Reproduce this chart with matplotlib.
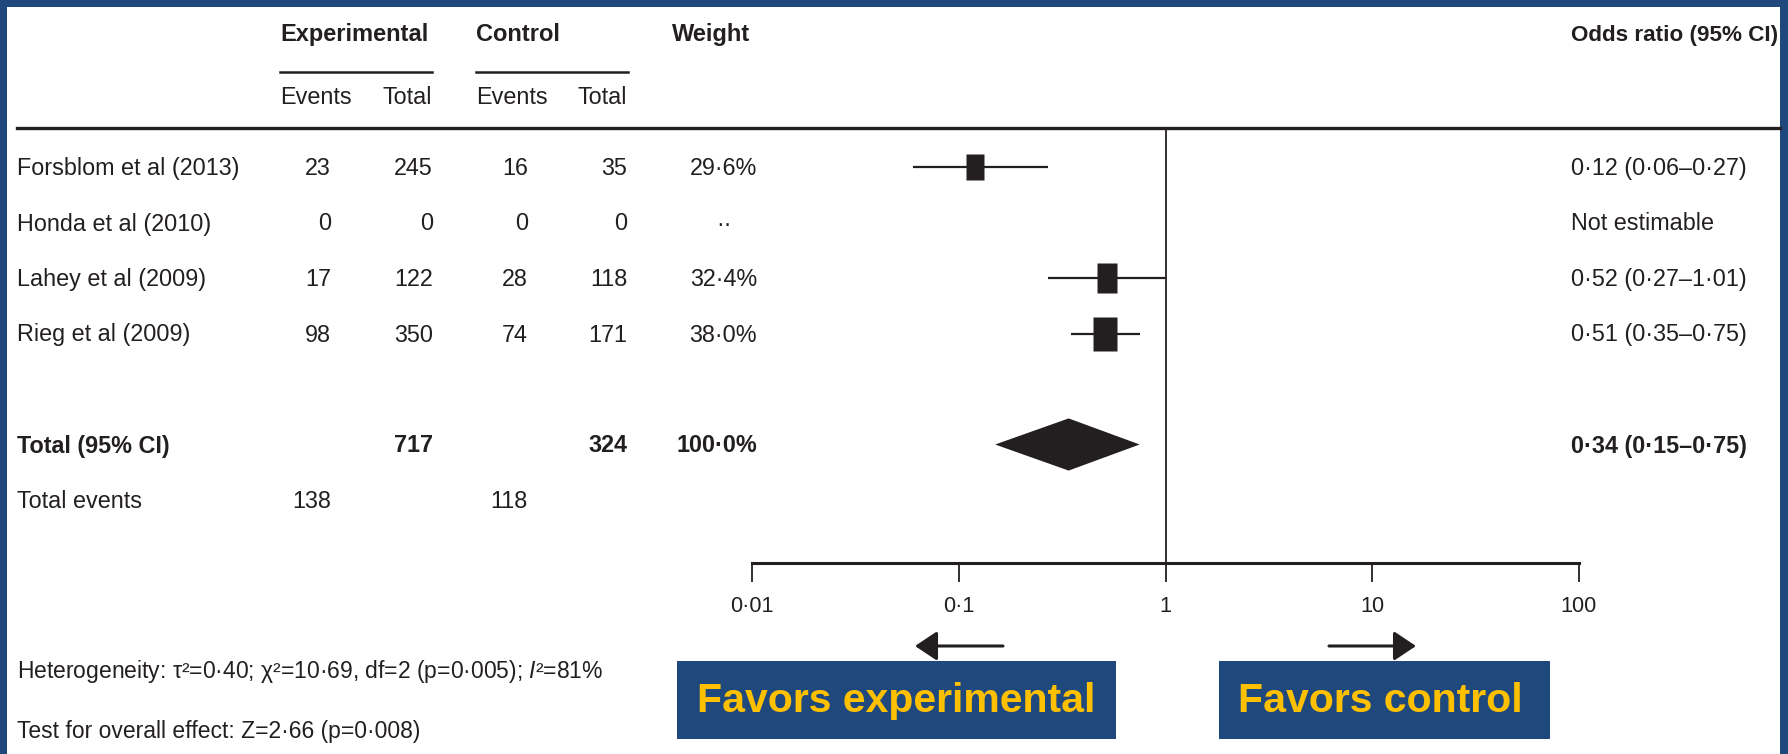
import matplotlib.pyplot as plt
from matplotlib.patches import Rectangle
from matplotlib.ticker import NullLocator

plt.rcParams['font.family'] = ['Liberation Sans', 'DejaVu Sans']
plt.rcParams['mathtext.fontset'] = 'custom'
plt.rcParams['mathtext.it'] = 'Liberation Sans:italic'
plt.rcParams['mathtext.rm'] = 'Liberation Sans'

# -------------------------
# Data
# -------------------------
studies = ["Forsblom et al (2013)", "Honda et al (2010)", "Lahey et al (2009)", "Rieg et al (2009)"]
exp_events = [23, 0, 17, 98]
exp_total = [245, 0, 122, 350]
ctl_events = [16, 0, 28, 74]
ctl_total = [35, 0, 118, 171]
weights = [29.6, None, 32.4, 38.0]
odds = [0.12, None, 0.52, 0.51]
ci_low = [0.06, None, 0.27, 0.35]
ci_high = [0.27, None, 1.01, 0.75]

pooled_or, pooled_low, pooled_high = 0.34, 0.15, 0.75
total_exp, total_ctl = 717, 324
total_events_exp, total_events_ctl = 138, 118

ticks = [0.01, 0.1, 1, 10, 100]
tick_labels = ["0·01", "0·1", "1", "10", "100"]

heterogeneity = "Heterogeneity: τ²=0·40; χ²=10·69, df=2 (p=0·005); $\\mathit{I}$²=81%"
overall = "Test for overall effect: Z=2·66 (p=0·008)"


def dot(s):
    return s.replace(".", "·")


BLUE = "#1F497D"
GOLD = "#FFC000"
INK = "#231F20"

W, H = 1788, 754
fig = plt.figure(figsize=(W / 100, H / 100), dpi=100)
fig.patch.set_facecolor(BLUE)

# background / table axes in pixel units
bg = fig.add_axes([0, 0, 1, 1])
bg.set_xlim(0, W)
bg.set_ylim(H, 0)
bg.axis("off")
bg.add_patch(Rectangle((7, 7), 1773, 760, facecolor="white", edgecolor="none"))

row_y0, pitch = 167, 55.5
total_row, events_row = 5, 6
fs = 16.8
hfs = 17


def ry(r):
    return row_y0 + r * pitch + 8  # baseline


# headers
bg.text(280, 41, "Experimental", fontsize=hfs, fontweight="bold", color=INK, va="baseline")
bg.text(476, 41, "Control", fontsize=hfs, fontweight="bold", color=INK, va="baseline")
bg.text(672, 41, "Weight", fontsize=hfs, fontweight="bold", color=INK, va="baseline")
bg.text(1778, 41, "Odds ratio (95% CI)", fontsize=16.2, fontweight="bold", color=INK,
        va="baseline", ha="right")
bg.plot([280, 432], [72, 72], color=INK, lw=1.8)
bg.plot([476, 628], [72, 72], color=INK, lw=1.8)
bg.text(280, 104, "Events", fontsize=fs, color=INK, va="baseline")
bg.text(432, 104, "Total", fontsize=fs, color=INK, va="baseline", ha="right")
bg.text(476, 104, "Events", fontsize=fs, color=INK, va="baseline")
bg.text(627, 104, "Total", fontsize=fs, color=INK, va="baseline", ha="right")
bg.plot([17, 1780], [128, 128], color=INK, lw=2.4)

# study rows
for i, name in enumerate(studies):
    y = ry(i)
    bg.text(17, y, name, fontsize=fs, color=INK, va="baseline")
    bg.text(331, y, str(exp_events[i]), fontsize=fs, color=INK, va="baseline", ha="right")
    bg.text(433, y, str(exp_total[i]), fontsize=fs, color=INK, va="baseline", ha="right")
    bg.text(528, y, str(ctl_events[i]), fontsize=fs, color=INK, va="baseline", ha="right")
    bg.text(627, y, str(ctl_total[i]), fontsize=fs, color=INK, va="baseline", ha="right")
    if weights[i] is None:
        bg.text(724, y, "··", fontsize=fs, color=INK, va="baseline", ha="center")
        bg.text(1571, y, "Not estimable", fontsize=fs, color=INK, va="baseline")
    else:
        bg.text(757, y, dot(f"{weights[i]:.1f}%"), fontsize=fs, color=INK, va="baseline", ha="right")
        lab = dot(f"{odds[i]:.2f} ({ci_low[i]:.2f}") + "–" + dot(f"{ci_high[i]:.2f})")
        bg.text(1571, y, lab, fontsize=fs, color=INK, va="baseline")

# totals
y = ry(total_row)
bg.text(17, y, "Total (95% CI)", fontsize=fs, fontweight="bold", color=INK, va="baseline")
bg.text(433, y, str(total_exp), fontsize=fs, fontweight="bold", color=INK, va="baseline", ha="right")
bg.text(627, y, str(total_ctl), fontsize=fs, fontweight="bold", color=INK, va="baseline", ha="right")
bg.text(757, y, dot(f"{sum(w for w in weights if w):.1f}%"), fontsize=fs, fontweight="bold",
        color=INK, va="baseline", ha="right")
lab = dot(f"{pooled_or:.2f} ({pooled_low:.2f}") + "–" + dot(f"{pooled_high:.2f})")
bg.text(1571, y, lab, fontsize=fs, fontweight="bold", color=INK, va="baseline")

y = ry(events_row)
bg.text(17, y, "Total events", fontsize=fs, color=INK, va="baseline")
bg.text(331, y, str(total_events_exp), fontsize=fs, color=INK, va="baseline", ha="right")
bg.text(528, y, str(total_events_ctl), fontsize=fs, color=INK, va="baseline", ha="right")

# footnotes
bg.text(17, 678, heterogeneity, fontsize=16.5, color=INK, va="baseline")
bg.text(17, 738, overall, fontsize=16.5, color=INK, va="baseline")

# favors boxes + arrows
bg.add_patch(Rectangle((677, 661), 439, 78, facecolor=BLUE, edgecolor="none"))
bg.add_patch(Rectangle((1219, 661), 331, 78, facecolor=BLUE, edgecolor="none"))
bg.text(896, 712, "Favors experimental", fontsize=29.5, fontweight="bold", color=GOLD,
        ha="center", va="baseline")
bg.text(1238, 712, "Favors control", fontsize=29.5, fontweight="bold", color=GOLD,
        ha="left", va="baseline")
arrow = dict(arrowstyle="-|>,head_length=0.9,head_width=0.6", lw=2.2, color=INK,
             mutation_scale=15, shrinkA=0, shrinkB=0)
bg.annotate("", xy=(915, 646), xytext=(1003, 646), arrowprops=arrow)
bg.annotate("", xy=(1416, 646), xytext=(1329, 646), arrowprops=arrow)

# -------------------------
# Forest plot axes
# -------------------------
ax = fig.add_axes([752 / W, 1 - 563 / H, (1579 - 752) / W, (563 - 128) / H])
ax.patch.set_alpha(0)
ax.set_xscale("log")
ax.set_xlim(0.01, 100)
ax.set_ylim((563 - row_y0) / pitch, (128 - row_y0) / pitch)
for s in ["top", "left", "right"]:
    ax.spines[s].set_visible(False)
ax.spines["bottom"].set_linewidth(2.2)
ax.spines["bottom"].set_color(INK)
ax.set_yticks([])
ax.set_xticks(ticks)
ax.set_xticklabels(tick_labels)
ax.xaxis.set_minor_locator(NullLocator())
ax.tick_params(axis="x", length=14, width=1.3, pad=10, labelsize=15.7, color=INK, labelcolor=INK)
ax.axvline(1, color=INK, lw=1.3)

box = [(-0.34, -0.5), (0.34, -0.5), (0.34, 0.5), (-0.34, 0.5), (-0.34, -0.5)]
for i in range(len(studies)):
    if odds[i] is None:
        continue
    ax.hlines(i, ci_low[i], ci_high[i], color=INK, lw=1.6)
    ax.plot(odds[i], i, marker=box, ms=weights[i] * 0.656, color=INK, mec="none", ls="none")

ax.fill([pooled_low, pooled_or, pooled_high, pooled_or],
        [total_row, total_row - 0.47, total_row, total_row + 0.47], color=INK, lw=0)

fig.savefig("out.png", dpi=100, facecolor=fig.get_facecolor())
